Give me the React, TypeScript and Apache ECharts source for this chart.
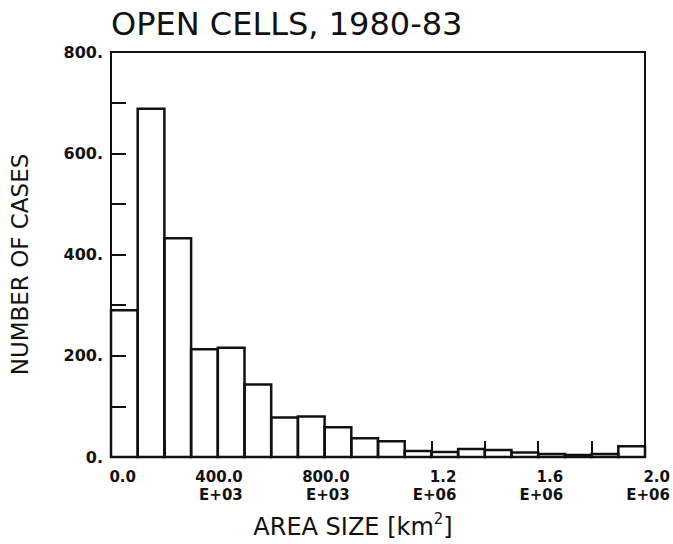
import React, { useEffect, useRef } from "react";
import * as echarts from "echarts";

const titleText = "OPEN CELLS, 1980-83";
const yAxisTitle = "NUMBER OF CASES";
const binWidth = 100000;
const counts = [290, 688, 432, 213, 216, 143, 78, 80, 59, 37, 31, 12, 10, 16, 14, 9, 6, 4, 6, 21];
const xTickValues = [0, 400000, 800000, 1200000, 1600000, 2000000];
const xTickLine1 = ["0.0", "400.0", "800.0", "1.2", "1.6", "2.0"];
const xTickLine2 = ["", "E+03", "E+03", "E+06", "E+06", "E+06"];
const yTickValues = [0, 200, 400, 600, 800];
const yTickLabels = ["0.", "200.", "400.", "600.", "800."];

const FONT = "DejaVu Sans";

export default function App() {
  const ref = useRef<HTMLDivElement>(null);
  useEffect(() => {
    if (!ref.current) return;
    const chart = echarts.init(ref.current, null, { renderer: "svg" });
    const data = counts.map((c, i) => [i * binWidth, (i + 1) * binWidth, c]);
    chart.setOption({
      animation: false,
      backgroundColor: "#fff",
      title: {
        text: titleText,
        left: 106,
        top: 3,
        textStyle: { fontFamily: FONT, fontSize: 32, fontWeight: "normal", color: "#111" },
      },
      grid: {
        left: 108,
        right: 21,
        top: 52,
        bottom: 83,
        show: true,
        borderColor: "#111",
        borderWidth: 2,
        backgroundColor: "transparent",
      },
      xAxis: {
        type: "value",
        min: 0,
        max: 2000000,
        interval: 200000,
        splitLine: { show: false },
        axisLine: { show: true, lineStyle: { color: "#111", width: 2 } },
        axisTick: { show: true, inside: true, length: 16, lineStyle: { color: "#111", width: 2 } },
        axisLabel: {
          margin: 11,
          formatter: (v: number) => {
            const i = xTickValues.indexOf(v);
            if (i < 0) return "";
            return xTickLine2[i] ? `{t|${xTickLine1[i]}}\n{t|${xTickLine2[i]}}` : `{t|${xTickLine1[i]}}`;
          },
          rich: {
            t: {
              width: 50,
              align: "right",
              fontFamily: FONT,
              fontSize: 15,
              fontWeight: "bold",
              color: "#111",
              lineHeight: 18,
            },
          },
        },
        name: "{a|AREA SIZE [km}{s|2}{a|]}",
        nameLocation: "middle",
        nameGap: 54,
        nameTextStyle: {
          padding: [0, 50, 0, 0],
          rich: {
            a: { fontFamily: FONT, fontSize: 24, color: "#111", lineHeight: 28, verticalAlign: "bottom" },
            s: { fontFamily: FONT, fontSize: 15, color: "#111", lineHeight: 28, verticalAlign: "top" },
          },
        },
      },
      yAxis: {
        type: "value",
        min: 0,
        max: 800,
        interval: 100,
        splitLine: { show: false },
        axisLine: { show: true, lineStyle: { color: "#111", width: 2 } },
        axisTick: { show: true, inside: true, length: 15, lineStyle: { color: "#111", width: 2 } },
        axisLabel: {
          margin: 8,
          padding: [10, 0, 0, 0],
          fontFamily: FONT,
          fontSize: 16,
          fontWeight: "bold",
          color: "#111",
          formatter: (v: number) => {
            const i = yTickValues.indexOf(v);
            return i < 0 ? "" : yTickLabels[i];
          },
        },
        name: yAxisTitle,
        nameLocation: "middle",
        nameGap: 80,
        nameTextStyle: {
          fontFamily: FONT,
          fontSize: 23,
          color: "#111",
          padding: [0, 20, 0, 0],
        },
      },
      series: [
        {
          type: "custom",
          encode: { x: [0, 1], y: 2 },
          data,
          z: 5,
          renderItem: (params: any, api: any) => {
            const x0 = api.value(0);
            const x1 = api.value(1);
            const y = api.value(2);
            const p0 = api.coord([x0, y]);
            const p1 = api.coord([x1, 0]);
            return {
              type: "rect",
              shape: { x: p0[0], y: p0[1], width: p1[0] - p0[0], height: p1[1] - p0[1] },
              style: { fill: "none", stroke: "#111", lineWidth: 2.5 },
            };
          },
        },
      ],
    });
    return () => chart.dispose();
  }, []);
  return <div ref={ref} style={{ position: "fixed", left: 0, top: 0, width: 673, height: 544 }} />;
}
